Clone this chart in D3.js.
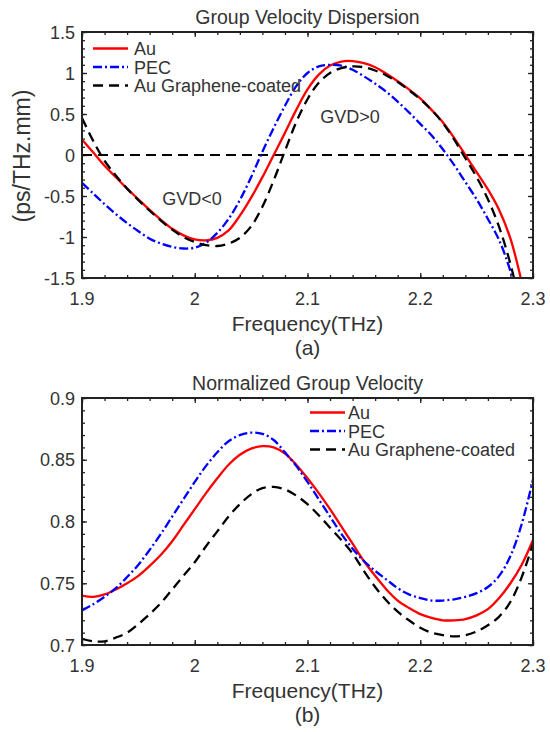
<!DOCTYPE html>
<html>
<head>
<meta charset="utf-8">
<script src="https://cdn.jsdelivr.net/npm/d3@7/dist/d3.min.js"></script>
<style>
  html, body { margin: 0; padding: 0; background: #fff; }
  svg { display: block; }
  text { font-family: "Liberation Sans", Arial, Helvetica, sans-serif; fill: #333; }
</style>
</head>
<body>
<svg id="fig" width="550" height="732"></svg>
<script>
// ---- Data -------------------------------------------------------------
// Shared frequency grid (THz)
const freq = [1.90,1.91,1.92,1.93,1.94,1.95,1.96,1.97,1.98,1.99,
              2.00,2.01,2.02,2.03,2.04,2.05,2.06,2.07,2.08,2.09,
              2.10,2.11,2.12,2.13,2.14,2.15,2.16,2.17,2.18,2.19,
              2.20,2.21,2.22,2.23,2.24,2.25,2.26,2.27,2.28,2.29];
const freqNorm = freq.concat([2.30]);

// (a) Group velocity dispersion, ps/(THz.mm)
const gvdAu = [0.19,0.03,-0.13,-0.27,-0.41,-0.54,-0.67,-0.79,-0.90,-0.98,
               -1.03,-1.04,-1.01,-0.92,-0.74,-0.52,-0.27,0.00,0.27,0.55,
               0.80,0.98,1.09,1.14,1.145,1.12,1.07,0.99,0.90,0.80,
               0.69,0.55,0.40,0.21,0.00,-0.21,-0.42,-0.67,-1.02,-1.55];
const gvdPEC = [-0.34,-0.47,-0.60,-0.72,-0.83,-0.93,-1.02,-1.08,-1.12,-1.14,
                -1.13,-1.07,-0.95,-0.78,-0.55,-0.27,0.04,0.33,0.60,0.84,
                1.00,1.08,1.10,1.09,1.04,0.96,0.87,0.77,0.65,0.52,
                0.38,0.24,0.07,-0.12,-0.33,-0.54,-0.78,-1.04,-1.42,-2.00];
const gvdGraphene = [0.45,0.17,-0.07,-0.25,-0.41,-0.55,-0.68,-0.80,-0.91,-1.00,
                     -1.06,-1.10,-1.11,-1.08,-1.01,-0.87,-0.63,-0.31,0.05,0.40,
                     0.68,0.88,1.00,1.06,1.08,1.07,1.03,0.97,0.89,0.79,
                     0.68,0.55,0.39,0.19,-0.04,-0.27,-0.54,-0.88,-1.33,-1.90];

// (b) Normalized group velocity
const ngvAu = [0.740,0.739,0.741,0.745,0.750,0.756,0.764,0.773,0.784,0.797,
               0.810,0.823,0.835,0.846,0.854,0.859,0.861,0.860,0.855,0.846,
               0.835,0.823,0.810,0.796,0.782,0.768,0.756,0.745,0.736,0.730,
               0.725,0.722,0.720,0.720,0.721,0.724,0.729,0.738,0.750,0.765,0.785];
const ngvPEC = [0.728,0.733,0.739,0.746,0.755,0.765,0.777,0.790,0.804,0.818,
                0.832,0.845,0.856,0.865,0.870,0.872,0.871,0.866,0.856,0.845,
                0.832,0.818,0.804,0.790,0.778,0.768,0.760,0.753,0.746,0.741,
                0.738,0.736,0.736,0.737,0.739,0.742,0.747,0.756,0.772,0.798,0.834];
const ngvGraphene = [0.705,0.703,0.703,0.706,0.710,0.717,0.725,0.734,0.745,0.756,
                     0.767,0.780,0.792,0.804,0.814,0.822,0.827,0.828,0.826,0.821,
                     0.814,0.805,0.795,0.785,0.774,0.760,0.747,0.736,0.727,0.720,
                     0.714,0.710,0.708,0.707,0.708,0.711,0.716,0.723,0.735,0.755,0.782];

const seriesNames = ["Au", "PEC", "Au Graphene-coated"];
const xTicks = [1.9, 2.0, 2.1, 2.2, 2.3];
const xTickLabels = ["1.9", "2", "2.1", "2.2", "2.3"];
const gvdTicks = [-1.5, -1, -0.5, 0, 0.5, 1, 1.5];
const gvdTickLabels = ["-1.5", "-1", "-0.5", "0", "0.5", "1", "1.5"];
const ngvTicks = [0.7, 0.75, 0.8, 0.85, 0.9];
const ngvTickLabels = ["0.7", "0.75", "0.8", "0.85", "0.9"];

// ---- Styles -----------------------------------------------------------
const styles = [
  { color: "#ff0000", dash: null },
  { color: "#0000ff", dash: "9,3,2,3" },
  { color: "#000000", dash: "10,6" }
];

const svg = d3.select("#fig");

function drawPanel(opt) {
  const { left, right, top, bottom } = opt.box;
  const x = d3.scaleLinear().domain([1.9, 2.3]).range([left, right]);
  const y = d3.scaleLinear().domain(opt.yDomain).range([bottom, top]);
  const g = svg.append("g");

  const clipId = "clip-" + opt.id;
  g.append("clipPath").attr("id", clipId)
    .append("rect").attr("x", left).attr("y", top)
    .attr("width", right - left).attr("height", bottom - top);

  // minor ticks on all four sides (drawn inward)
  const xMinor = d3.range(0, 21).map(i => 1.9 + i * 0.02);
  const yMinor = d3.range(0, Math.round((opt.yDomain[1] - opt.yDomain[0]) / opt.yMinorStep) + 1)
    .map(i => opt.yDomain[0] + i * opt.yMinorStep);

  const tickAxis = (axisFn, scale, values, size) =>
    axisFn(scale).tickValues(values).tickSize(size).tickFormat("");

  const inward = [
    [d3.axisBottom, x, top, 0, xMinor, 3], [d3.axisTop, x, bottom, 0, xMinor, 3],
    [d3.axisBottom, x, top, 0, xTicks, 5], [d3.axisTop, x, bottom, 0, xTicks, 5],
    [d3.axisRight, y, 0, left, yMinor, 3], [d3.axisLeft, y, 0, right, yMinor, 3],
    [d3.axisRight, y, 0, left, opt.yTicks, 5], [d3.axisLeft, y, 0, right, opt.yTicks, 5]
  ];
  inward.forEach(([fn, sc, ty, tx, vals, sz]) => {
    const a = g.append("g").attr("transform", `translate(${tx},${ty})`)
      .call(tickAxis(fn, sc, vals, sz));
    a.select(".domain").remove();
    a.selectAll("line").attr("stroke", "#222").attr("stroke-width", 1.3);
  });

  // tick labels
  g.selectAll(".xlab").data(xTicks).join("text")
    .attr("x", d => x(d)).attr("y", bottom + 27)
    .attr("text-anchor", "middle").attr("font-size", 18)
    .text((d, i) => xTickLabels[i]);
  g.selectAll(".ylab").data(opt.yTicks).join("text")
    .attr("x", left - 7).attr("y", d => y(d) + 6.5)
    .attr("text-anchor", "end").attr("font-size", 18)
    .text((d, i) => opt.yTickLabels[i]);

  // zero reference line
  if (opt.zeroLine) {
    g.append("line")
      .attr("x1", left).attr("x2", right)
      .attr("y1", y(0)).attr("y2", y(0))
      .attr("stroke", "#000").attr("stroke-width", 2)
      .attr("stroke-dasharray", "10,6");
  }

  // curves
  const line = d3.line()
    .x((d, i) => x(opt.freq[i]))
    .y(d => y(d))
    .curve(d3.curveCatmullRom.alpha(0.5));
  const curves = g.append("g").attr("clip-path", `url(#${clipId})`);
  opt.series.forEach((vals, k) => {
    curves.append("path").datum(vals)
      .attr("d", line)
      .attr("fill", "none")
      .attr("stroke", styles[k].color)
      .attr("stroke-width", 2.3)
      .attr("stroke-dasharray", styles[k].dash);
  });

  // frame
  g.append("rect").attr("x", left).attr("y", top)
    .attr("width", right - left).attr("height", bottom - top)
    .attr("fill", "none").attr("stroke", "#222").attr("stroke-width", 2);

  // legend
  const lg = opt.legend;
  seriesNames.forEach((name, k) => {
    const ly = lg.y + k * lg.dy;
    g.append("line")
      .attr("x1", lg.x1).attr("x2", lg.x2).attr("y1", ly).attr("y2", ly)
      .attr("stroke", styles[k].color).attr("stroke-width", 2.3)
      .attr("stroke-dasharray", styles[k].dash);
    g.append("text")
      .attr("x", lg.tx).attr("y", ly + 6.5)
      .attr("font-size", 18).text(name);
  });

  // title and axis label
  const cx = (left + right) / 2;
  g.append("text").attr("x", cx).attr("y", top - 8)
    .attr("text-anchor", "middle").attr("font-size", 19.5).text(opt.title);
  g.append("text").attr("x", cx).attr("y", bottom + 53)
    .attr("text-anchor", "middle").attr("font-size", 21).text("Frequency(THz)");
  g.append("text").attr("x", cx).attr("y", bottom + 77)
    .attr("text-anchor", "middle").attr("font-size", 21).text(opt.tag);

  return { x, y, g };
}

// (a) Group velocity dispersion
const a = drawPanel({
  id: "a",
  box: { left: 82, right: 533, top: 32, bottom: 278 },
  yDomain: [-1.5, 1.5], yMinorStep: 0.1,
  yTicks: gvdTicks, yTickLabels: gvdTickLabels,
  freq: freq, series: [gvdAu, gvdPEC, gvdGraphene],
  zeroLine: true,
  legend: { x1: 93, x2: 128, tx: 134, y: 48.5, dy: 18.5 },
  title: "Group Velocity Dispersion", tag: "(a)"
});
a.g.append("text").attr("x", 350).attr("y", 123)
  .attr("text-anchor", "middle").attr("font-size", 18).text("GVD>0");
a.g.append("text").attr("x", 192).attr("y", 205)
  .attr("text-anchor", "middle").attr("font-size", 18).text("GVD<0");
a.g.append("text")
  .attr("transform", "translate(30,156) rotate(-90)")
  .attr("text-anchor", "middle").attr("font-size", 23).text("(ps/THz.mm)");

// (b) Normalized group velocity
drawPanel({
  id: "b",
  box: { left: 82, right: 533, top: 398, bottom: 645 },
  yDomain: [0.7, 0.9], yMinorStep: 0.01,
  yTicks: ngvTicks, yTickLabels: ngvTickLabels,
  freq: freqNorm, series: [ngvAu, ngvPEC, ngvGraphene],
  zeroLine: false,
  legend: { x1: 310, x2: 345, tx: 348, y: 412.5, dy: 18.5 },
  title: "Normalized Group Velocity", tag: "(b)"
});
</script>
</body>
</html>
